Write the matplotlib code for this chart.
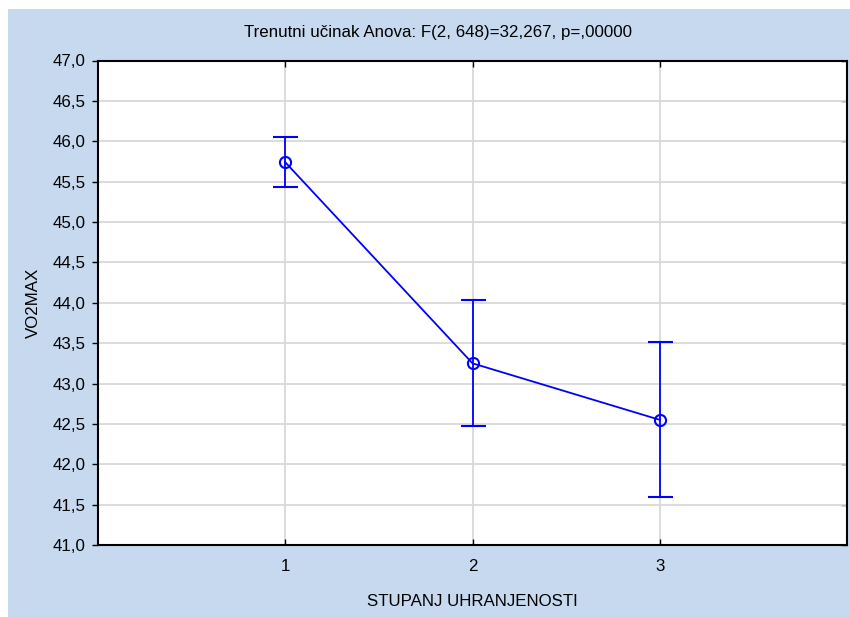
import matplotlib
matplotlib.use("Agg")
import matplotlib.pyplot as plt
from matplotlib.patches import Rectangle

categories = [1, 2, 3]
means = [45.74, 43.25, 42.55]
err = [0.31, 0.78, 0.96]
yticks = [41.0, 41.5, 42.0, 42.5, 43.0, 43.5, 44.0, 44.5, 45.0, 45.5, 46.0, 46.5, 47.0]
title = "Trenutni učinak Anova: F(2, 648)=32,267, p=,00000"
xlabel = "STUPANJ UHRANJENOSTI"
ylabel = "VO2MAX"

plt.rcParams['font.family'] = ['Liberation Sans', 'DejaVu Sans']
fs = 12.2
W, H = 850, 617
fig = plt.figure(figsize=(W/100, H/100), dpi=100)
fig.patch.set_facecolor('white')
bg = '#c7d9ef'
fig.patches.append(Rectangle((8/W, 0), 1 - 8/W, 1 - 9/H, transform=fig.transFigure,
                             facecolor=bg, edgecolor='none', zorder=-10))

l, r, t, b = 98, 847, 60.5, 545
ax = fig.add_axes([l/W, 1 - b/H, (r-l)/W, (b-t)/H])
ax.set_facecolor('white')
blue = '#0000ff'
ax.errorbar(categories, means, yerr=err, color=blue, lw=1.3, marker='o', ms=8,
            mfc='none', mec=blue, mew=1.5, capsize=9, capthick=1.3, elinewidth=1.3, zorder=3)
ax.set_xlim(0, 4)
ax.set_ylim(41, 47)
ax.set_xticks(categories)
ax.set_xticklabels([str(c) for c in categories], fontsize=fs)
ax.set_yticks(yticks)
ax.set_yticklabels([f"{v:.1f}".replace('.', ',') for v in yticks], fontsize=fs)
ax.grid(True, color='#d9d9d9', lw=1.3, zorder=0)
ax.set_axisbelow(True)
for s in ax.spines.values():
    s.set_color('black'); s.set_linewidth(1.5)
ax.tick_params(axis='y', direction='out', length=4, width=1, pad=5)
ax.tick_params(axis='x', direction='in', length=4, width=1, pad=10)
ax.tick_params(axis='x', top=True)
sec = ax.secondary_yaxis('right')
sec.set_yticks(yticks)
sec.tick_params(direction='in', length=4, width=1, labelright=False)
sec.spines['right'].set_visible(False)

fig.text(438/W, 1 - 32/H, title, ha='center', va='center', fontsize=fs)
fig.text((l + r)/2/W, 1 - 601/H, xlabel, ha='center', va='center', fontsize=fs)
fig.text(33/W, 1 - (t + b)/2/H, ylabel, ha='center', va='center', rotation=90, fontsize=fs)

fig.savefig('out.png', dpi=100, facecolor=fig.get_facecolor())
